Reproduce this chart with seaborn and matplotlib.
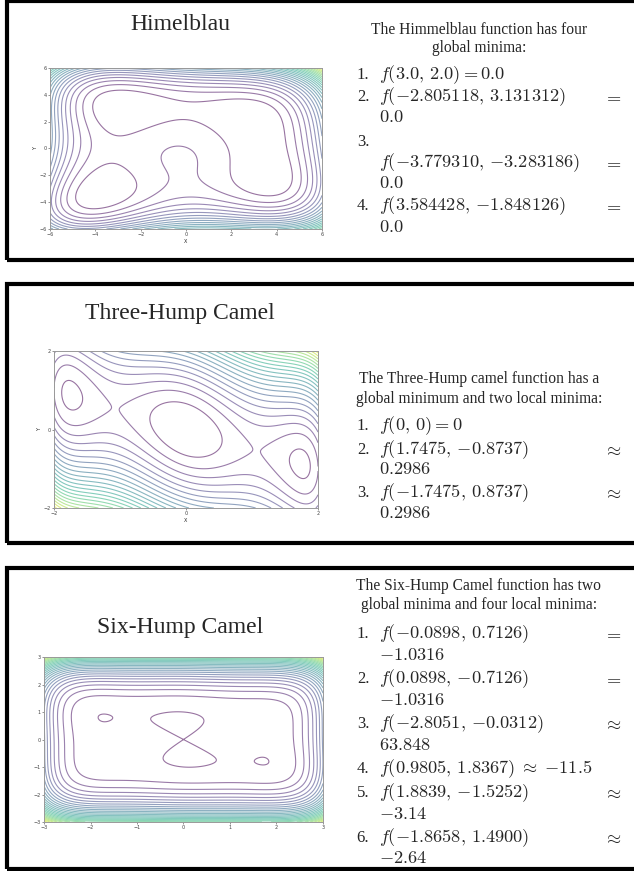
import numpy as np
import matplotlib
matplotlib.use("Agg")
import matplotlib.pyplot as plt
import seaborn as sns
from matplotlib.patches import Rectangle

W, H = 634, 871

sns.set_theme(style="white")
plt.rcParams['font.family'] = ['Liberation Serif', 'DejaVu Serif']
plt.rcParams['mathtext.fontset'] = 'cm'

# ---------------- data ----------------
titles = ["Himelblau", "Three-Hump Camel", "Six-Hump Camel"]
x_ranges = [(-6, 6), (-2, 2), (-3, 3)]
y_ranges = [(-6, 6), (-2, 2), (-3, 3)]
x_ticks = [[-6, -4, -2, 0, 2, 4, 6], [-2, 0, 2], [-3, -2, -1, 0, 1, 2, 3]]
y_ticks = [[-6, -4, -2, 0, 2, 4, 6], [-2, 0, 2], [-3, -2, -1, 0, 1, 2, 3]]
axis_labels = [("X", "Y"), ("X", "Y"), ("", "")]
level_steps = [84.0, 0.435, 15.0]
grid_points = 400


def himmelblau(x, y):
    return (x**2 + y - 11)**2 + (x + y**2 - 7)**2


def three_hump(x, y):
    return 2 * x**2 - 1.05 * x**4 + x**6 / 6 + x * y + y**2


def six_hump(x, y):
    return (4 - 2.1 * x**2 + x**4 / 3) * x**2 + x * y + (-4 + 4 * y**2) * y**2


functions = [himmelblau, three_hump, six_hump]

headers = [
    ["The Himmelblau function has four", "global minima:"],
    ["The Three-Hump camel function has a", "global minimum and two local minima:"],
    ["The Six-Hump Camel function has two", "global minima and four local minima:"],
]

# each item: (number, first-line math, relation at right margin, continuation lines)
items = [
    [("1.", r"$f(3.0,\,2.0) = 0.0$", "", []),
     ("2.", r"$f({-2.805118},\,3.131312)$", r"$=$", [r"$0.0$"]),
     ("3.", "", "", [(r"$f({-3.779310},\,{-3.283186})$", r"$=$"), r"$0.0$"]),
     ("4.", r"$f(3.584428,\,{-1.848126})$", r"$=$", [r"$0.0$"])],
    [("1.", r"$f(0,\,0) = 0$", "", []),
     ("2.", r"$f(1.7475,\,{-0.8737})$", r"$\approx$", [r"$0.2986$"]),
     ("3.", r"$f({-1.7475},\,0.8737)$", r"$\approx$", [r"$0.2986$"])],
    [("1.", r"$f({-0.0898},\,0.7126)$", r"$=$", [r"$-1.0316$"]),
     ("2.", r"$f(0.0898,\,{-0.7126})$", r"$=$", [r"$-1.0316$"]),
     ("3.", r"$f({-2.8051},\,{-0.0312})$", r"$\approx$", [r"$63.848$"]),
     ("4.", r"$f(0.9805,\,1.8367)\;\approx\;{-11.5}$", "", []),
     ("5.", r"$f(1.8839,\,{-1.5252})$", r"$\approx$", [r"$-3.14$"]),
     ("6.", r"$f({-1.8658},\,1.4900)$", r"$\approx$", [r"$-2.64$"])],
]

# ---------------- layout (pixels) ----------------
boxes = [(6.5, 1.5, 700, 259), (6.5, 284, 700, 259), (6.5, 568, 700, 301)]
axes_px = [(50, 68, 322, 229), (54, 351, 318, 508), (44, 657, 323, 822)]
title_pos = [(180, 24), (180, 313), (180, 627)]
header_y = [(30, 48), (379, 399), (586, 605)]
item_y = [
    [(75,), (97, 118), (142, 163, 183), (206, 227)],
    [(426,), (450, 470), (493, 513)],
    [(634, 655), (679, 700), (724, 745), (769,), (793, 814), (838, 858)],
]
num_x, text_x, rel_x, head_x = 363, 379, 621, 479
math_size = 13.2


def fx(x):
    return x / W


def fy(y):
    return 1 - y / H


fig = plt.figure(figsize=(W / 100, H / 100), dpi=100)

for (l, t, w, h) in boxes:
    fig.patches.append(Rectangle((fx(l), fy(t + h)), w / W, h / H,
                                 transform=fig.transFigure, fill=False,
                                 edgecolor="black", linewidth=3.0))

cmap = sns.color_palette("viridis", as_cmap=True)

for i in range(3):
    l, t, r, b = axes_px[i]
    ax = fig.add_axes([fx(l), fy(b), (r - l) / W, (b - t) / H])
    xs = np.linspace(*x_ranges[i], grid_points)
    ys = np.linspace(*y_ranges[i], grid_points)
    X, Y = np.meshgrid(xs, ys)
    Z = functions[i](X, Y)
    levels = np.arange(0, Z.max() + level_steps[i], level_steps[i])
    levels = levels[levels > Z.min()]
    ax.contour(X, Y, Z, levels=levels, cmap=cmap, linewidths=0.8, alpha=0.55)
    ax.set_xlim(*x_ranges[i])
    ax.set_ylim(*y_ranges[i])
    ax.set_xticks(x_ticks[i])
    ax.set_yticks(y_ticks[i])
    ax.tick_params(labelsize=3.5, length=1.5, width=0.4, pad=1,
                   bottom=True, left=True, colors="#444444")
    for lab in ax.get_xticklabels() + ax.get_yticklabels():
        lab.set_family("DejaVu Sans")
    ax.set_xlabel(axis_labels[i][0], fontsize=3.5, labelpad=1, family="DejaVu Sans")
    ax.set_ylabel(axis_labels[i][1], fontsize=3.5, labelpad=1, family="DejaVu Sans")
    for s in ax.spines.values():
        s.set_linewidth(0.7)
        s.set_color("#999999")

    tx, ty = title_pos[i]
    fig.text(fx(tx), fy(ty), titles[i], fontsize=17, ha="center", va="center")

    for line, hy in zip(headers[i], header_y[i]):
        fig.text(fx(head_x), fy(hy), line, fontsize=11.2, ha="center", va="center")

    for (num, first, rel, cont), ypos in zip(items[i], item_y[i]):
        fig.text(fx(num_x), fy(ypos[0]), num, fontsize=12, ha="center", va="center")
        if first:
            fig.text(fx(text_x), fy(ypos[0]), first, fontsize=math_size, ha="left", va="center")
        if rel:
            fig.text(fx(rel_x), fy(ypos[0]), rel, fontsize=math_size, ha="right", va="center")
        for k, part in enumerate(cont):
            yy = fy(ypos[1 + k])
            if isinstance(part, tuple):
                fig.text(fx(text_x), yy, part[0], fontsize=math_size, ha="left", va="center")
                fig.text(fx(rel_x), yy, part[1], fontsize=math_size, ha="right", va="center")
            else:
                fig.text(fx(text_x), yy, part, fontsize=math_size, ha="left", va="center")

fig.savefig("out.png", dpi=100)
